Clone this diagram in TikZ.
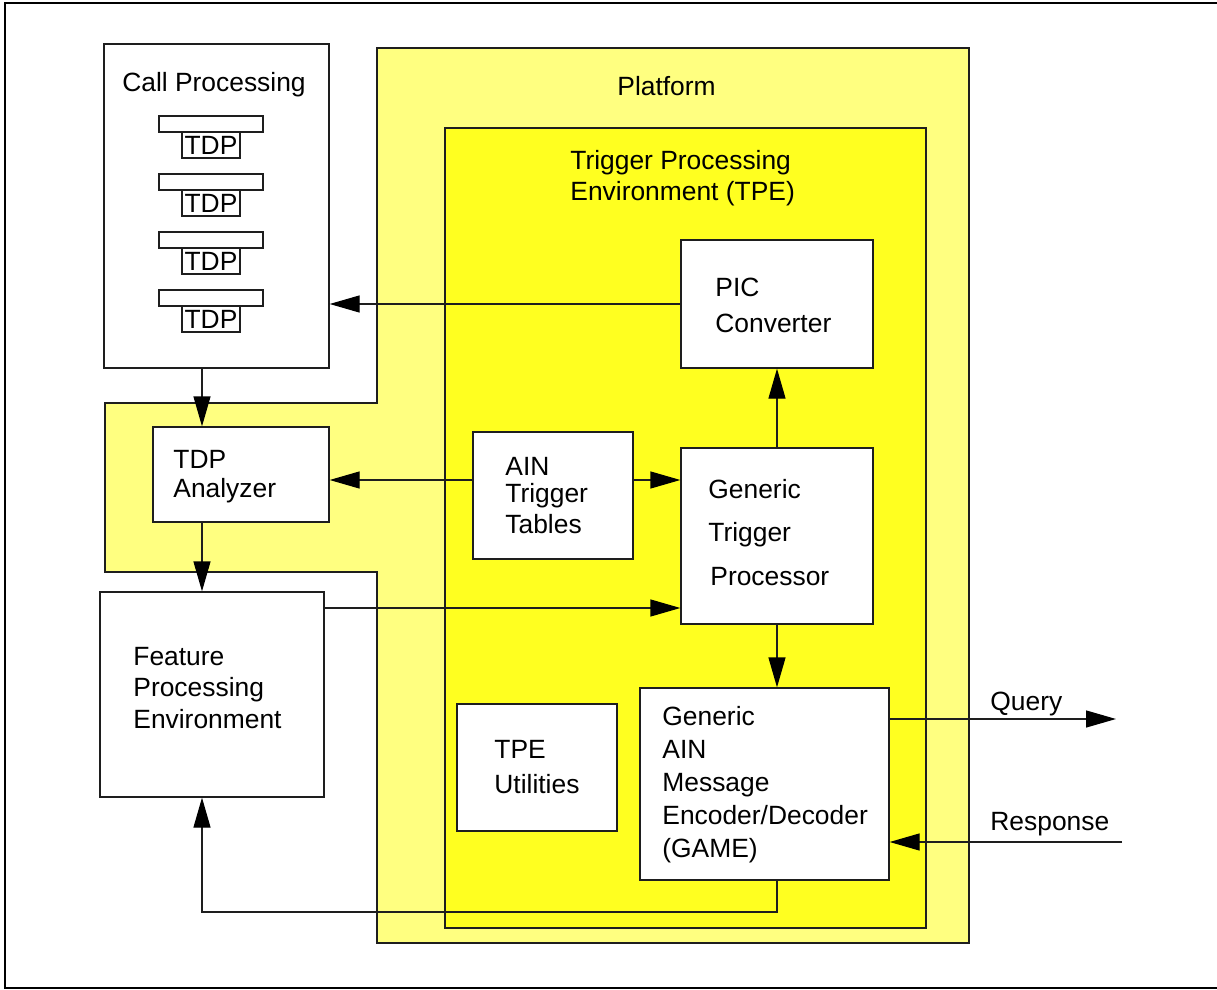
\documentclass[tikz,border=0pt]{standalone}
\usepackage{fontspec}
\setmainfont{Liberation Sans}
\usetikzlibrary{arrows.meta,fit}
\definecolor{platformfill}{RGB}{255,255,128}
\definecolor{tpefill}{RGB}{255,255,32}
\definecolor{ink}{RGB}{30,30,30}

\begin{document}
\begin{tikzpicture}[x=0.5pt,y=-0.5pt,
  every node/.style={font=\fontsize{13.2}{16}\selectfont},
  box/.style={draw=ink, line width=0.65pt, fill=white, inner sep=0pt},
  area/.style={draw=ink, line width=0.7pt},
  arr/.style={draw=ink, line width=0.65pt,
    -{Triangle[length=15pt,width=8.5pt,color=black]}},
  % multi-line labels are placed by the baseline of their last line
  lbl/.style={anchor=base west, align=left, inner sep=0pt},
]
\useasboundingbox (0,0) rectangle (1217,990);
\clip (0,0) rectangle (1217,990);

% frame
\draw[line width=1.2pt] (5,3) rectangle (1240,988);

% platform region
\path[area, fill=platformfill]
  (377,48) -- (969,48) -- (969,943) -- (377,943) -- (377,572)
  -- (105,572) -- (105,403) -- (377,403) -- cycle;
\node[lbl] (platform-lbl) at (617,96) {Platform};

% trigger processing environment
\node[area, fill=tpefill, fit={(445,128) (926,928)}, inner sep=0pt] (tpe) {};
\node[lbl, font=\fontsize{13.2}{15.5}\selectfont] (tpe-lbl) at (570,200)
  {Trigger Processing\\Environment (TPE)};

% call processing with its detection points
\node[box, fit={(104,44) (329,368)}] (cp) {};
\node[anchor=base, inner sep=0pt] (cp-lbl) at (214,92) {Call Processing};
\foreach \k in {0,...,3}{
  \node[box, fit={(159,{116+58*\k}) (263,{132+58*\k})}] (bar\k) {};
  \node[box, minimum width=29pt, minimum height=13pt] (tdp\k)
    at (211,{145+58*\k}) {TDP};
}

% functional blocks
\node[box, fit={(153,427) (329,522)}] (tda) {};
\node[lbl, font=\fontsize{13.2}{14.5}\selectfont] (tda-lbl) at (173,497) {TDP\\Analyzer};

\node[box, fit={(100,592) (324,797)}] (fpe) {};
\node[lbl, font=\fontsize{13.2}{15.75}\selectfont] (fpe-lbl) at (133,728)
  {Feature\\Processing\\Environment};

\node[box, fit={(681,240) (873,368)}] (pic) {};
\node[lbl, font=\fontsize{13.2}{17.5}\selectfont] (pic-lbl) at (715,332) {PIC\\Converter};

\node[box, fit={(473,432) (633,559)}] (ain) {};
\node[lbl, font=\fontsize{13.2}{13.5}\selectfont] (ain-lbl) at (505,533)
  {AIN\\Trigger\\[2pt]Tables};

\node[box, fit={(681,448) (873,624)}] (gtp) {};
\node[lbl, font=\fontsize{13.2}{21.75}\selectfont] (gtp-lbl) at (708,585)
  {Generic\\Trigger\\\hspace*{1pt}Processor};

\node[box, fit={(640,688) (889,880)}] (game) {};
\node[lbl, font=\fontsize{13.2}{16.5}\selectfont] (game-lbl) at (662,857)
  {Generic\\AIN\\Message\\Encoder/Decoder\\(GAME)};

\node[box, fit={(457,704) (617,831)}] (util) {};
\node[lbl, font=\fontsize{13.2}{17.5}\selectfont] (util-lbl) at (494,793) {TPE\\Utilities};

% routing helpers
\coordinate (colx) at (202,0);
\coordinate (row1) at (0,480);
\coordinate (row2) at (0,608);
\coordinate (qy) at (0,719);
\coordinate (ry) at (0,842);
\coordinate (fb) at (0,912);
\coordinate (query-end) at (1116,719);
\coordinate (resp-start) at (1122,842);

% connectors
\draw[arr] (pic.west) -- (pic.west -| cp.east);
\draw[arr] (cp.south -| colx) -- (tda.north -| colx);
\draw[arr] (tda.south -| colx) -- (fpe.north -| colx);
\draw[arr] (ain.west |- row1) -- (tda.east |- row1);
\draw[arr] (ain.east |- row1) -- (gtp.west |- row1);
\draw[arr] (fpe.east |- row2) -- (gtp.west |- row2);
\draw[arr] (gtp.north) -- (pic.south);
\draw[arr] (gtp.south) -- (gtp.south |- game.north);
\draw[arr] (gtp.south |- game.south) -- (gtp.south |- fb) -- (colx |- fb)
  -- (fpe.south -| colx);
\draw[arr] (game.east |- qy) -- (query-end);
\draw[arr] (resp-start) -- (game.east |- ry);

\node[lbl] (query-lbl) at (990,710) {Query};
\node[lbl] (resp-lbl) at (990,830) {Response};
\end{tikzpicture}
\end{document}
